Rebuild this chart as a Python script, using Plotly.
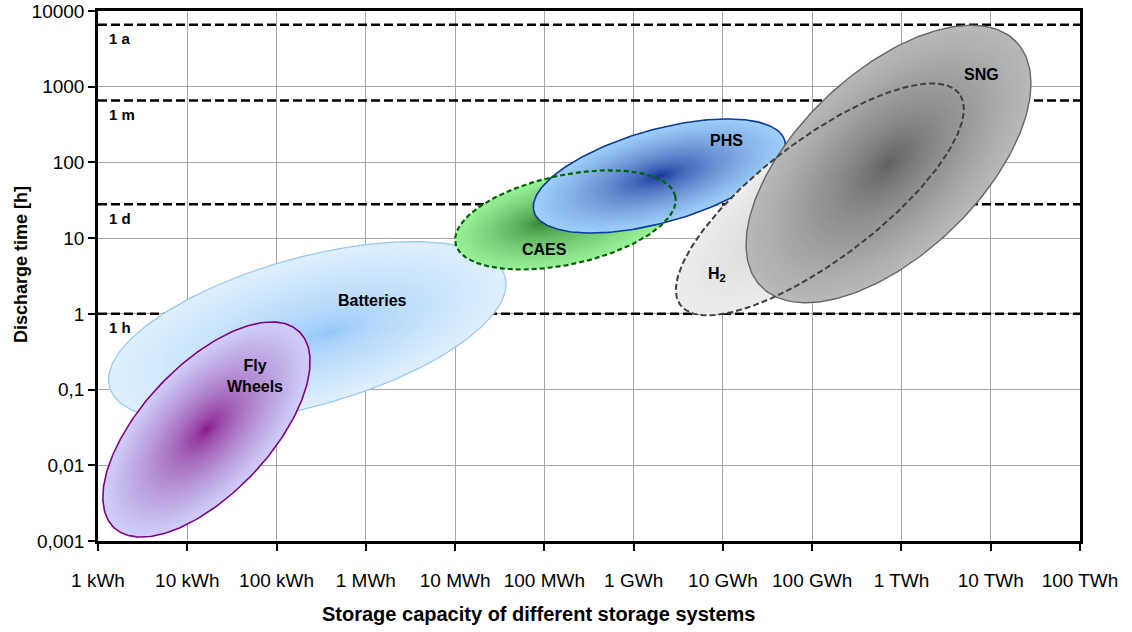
import numpy as np
import plotly.graph_objects as go

# ---------------- data ----------------
x_ticks_kwh = [1e0, 1e1, 1e2, 1e3, 1e4, 1e5, 1e6, 1e7, 1e8, 1e9, 1e10, 1e11]
x_tick_labels = ["1 kWh", "10 kWh", "100 kWh", "1 MWh", "10 MWh", "100 MWh",
                 "1 GWh", "10 GWh", "100 GWh", "1 TWh", "10 TWh", "100 TWh"]
y_ticks_h = [0.001, 0.01, 0.1, 1, 10, 100, 1000, 10000]
y_tick_labels = ["0,001", "0,01", "0,1", "1", "10", "100", "1000", "10000"]

ref_lines_h = [6600, 656, 28, 1]
ref_line_labels = ["1 a", "1 m", "1 d", "1 h"]

# storage technologies: ellipse centre, semi-axes (in decades of capacity) and tilt
tech_names = ["Batteries", "Fly Wheels", "CAES", "PHS", "H2", "SNG"]
center_kwh = [221, 16.4, 1.72e5, 1.94e6, 1.22e8, 7.16e8]
center_h = [0.579, 0.0297, 17.4, 66.2, 32.5, 95.3]
semi_major_dec = [2.30, 1.51, 1.26, 1.46, 1.96, 1.98]
semi_minor_dec = [0.83, 0.72, 0.50, 0.52, 0.67, 1.02]
tilt_deg = [15.6, 46.7, 12.1, 15.8, 37.2, 43.7]

# ---------------- layout / styles ----------------
W, H = 1132, 632
PL, PT, PW, PH = 98, 11, 982, 530   # plot area on screen
ML, MT = PL, PT
MR, MB = W - ML - PW, H - MT - PH
ASPECT = (PW / 11.0) / (PH / 7.0)   # px per x-decade / px per y-decade


def px_to_paper(sx, sy):
    return (sx - PL) / PW, (PT + PH - sy) / PH


styles = {
    "Batteries": dict(edge=(222, 239, 252), core=(140, 195, 250), line="#9cc8f2",
                      dash="solid", width=1.3, shift=(0.26, 0.0), gamma=0.6),
    "Fly Wheels": dict(edge=(206, 206, 250), core=(128, 8, 128), line="#800080",
                       dash="solid", width=1.6, shift=(0.0, 0.0), gamma=0.6),
    "CAES": dict(edge=(152, 240, 152), core=(40, 120, 40), line="#006400",
                 dash="5px,3px", width=2.2, shift=(-0.28, -0.04), gamma=0.6),
    "PHS": dict(edge=(160, 207, 250), core=(0, 30, 140), line="#0a3a9c",
                dash="solid", width=1.6, shift=(0.0, 0.0), gamma=0.55),
    "H2": dict(edge=(236, 236, 236), core=(200, 200, 200), line="#404040",
               dash="6px,3px", width=2.0, shift=(0.0, 0.0), gamma=0.7),
    "SNG": dict(edge=(184, 184, 184), core=(88, 88, 88), line="#666666",
                dash="solid", width=1.4, shift=(0.0, 0.0), gamma=0.65),
}

labels_pos = {  # (log10 x, log10 y) of the text labels
    "Batteries": ("Batteries", 3.08, 0.172),
    "Fly Wheels": ("Fly<br>Wheels", 1.76, -0.822),
    "CAES": ("CAES", 5.00, 0.851),
    "PHS": ("PHS", 7.04, 2.284),
    "H2": ("H<sub>2</sub>", 6.93, 0.525),
    "SNG": ("SNG", 9.90, 3.164),
}

t = np.linspace(0, 2 * np.pi, 241)


def ellipse(i, scale=1.0, shift=(0.0, 0.0)):
    cu, cv = np.log10(center_kwh[i]), np.log10(center_h[i])
    th = np.radians(tilt_deg[i])
    a, b = semi_major_dec[i] * scale, semi_minor_dec[i] * scale
    du = a * np.cos(t) * np.cos(th) - b * np.sin(t) * np.sin(th)
    dv = (a * np.cos(t) * np.sin(th) + b * np.sin(t) * np.cos(th)) * ASPECT
    # homothety around the glow centre keeps inner rings inside the outer one
    gu, gv = cu + shift[0], cv + shift[1]
    u = gu + scale * (cu - gu) + du
    v = gv + scale * (cv - gv) + dv
    return 10 ** u, 10 ** v


fig = go.Figure()

# reference lines (1 a, 1 m, 1 d, 1 h)
for val in ref_lines_h:
    fig.add_trace(go.Scatter(x=[x_ticks_kwh[0], x_ticks_kwh[-1]], y=[val, val], mode="lines",
                             line=dict(color="black", width=2.5, dash="9px,4px"),
                             hoverinfo="skip", showlegend=False))

N = 45


def add_fill(name):
    i = tech_names.index(name)
    st = styles[name]
    for s in np.linspace(1.0, 0.03, N):
        f = s ** st["gamma"]
        c = [int(round(st["core"][k] + (st["edge"][k] - st["core"][k]) * f)) for k in range(3)]
        x, y = ellipse(i, s, st["shift"])
        fig.add_trace(go.Scatter(x=x, y=y, mode="lines", fill="toself",
                                 fillcolor="rgb(%d,%d,%d)" % tuple(c),
                                 line=dict(width=0, color="rgba(0,0,0,0)"),
                                 hoverinfo="skip", showlegend=False))


def add_outline(name):
    i = tech_names.index(name)
    st = styles[name]
    x, y = ellipse(i)
    fig.add_trace(go.Scatter(x=x, y=y, mode="lines",
                             line=dict(color=st["line"], width=st["width"], dash=st["dash"]),
                             hoverinfo="skip", showlegend=False))


add_fill("Batteries"); add_outline("Batteries")
add_fill("Fly Wheels"); add_outline("Fly Wheels")
add_fill("CAES")
add_fill("PHS"); add_outline("PHS")
add_outline("CAES")
add_fill("H2")
add_fill("SNG"); add_outline("SNG")
add_outline("H2")

FONT = "Liberation Sans, Arial, sans-serif"

annotations = []
for name, (txt, lx, ly) in labels_pos.items():
    annotations.append(dict(x=lx, y=ly, xref="x", yref="y", text="<b>%s</b>" % txt,
                            showarrow=False, font=dict(family=FONT, size=16, color="black")))
for val, lab in zip(ref_lines_h, ref_line_labels):
    annotations.append(dict(x=px_to_paper(107, 0)[0], xref="paper", y=np.log10(val), yref="y",
                            yshift=-14, xanchor="left", yanchor="middle",
                            text="<b>%s</b>" % lab, showarrow=False,
                            font=dict(family=FONT, size=15, color="black")))
tx, ty = px_to_paper(538, 614)
annotations.append(dict(x=tx, y=ty, xref="paper", yref="paper",
                        text="<b>Storage capacity of different storage systems</b>",
                        showarrow=False, xanchor="center", yanchor="middle",
                        font=dict(family=FONT, size=20, color="black")))
tx, ty = px_to_paper(21, 265)
annotations.append(dict(x=tx, y=ty, xref="paper", yref="paper",
                        text="<b>Discharge time [h]</b>", textangle=-90,
                        showarrow=False, xanchor="center", yanchor="middle",
                        font=dict(family=FONT, size=18, color="black")))

fig.update_layout(
    width=W, height=H,
    margin=dict(l=ML, r=MR, t=MT, b=MB, autoexpand=False),
    plot_bgcolor="white", paper_bgcolor="white",
    showlegend=False,
    font=dict(family=FONT, color="black"),
    annotations=annotations,
)
fig.update_xaxes(type="log", range=[0, 11], tickvals=x_ticks_kwh, ticktext=x_tick_labels,
                 showgrid=True, gridcolor="#a6a6a6", gridwidth=1.2,
                 showline=True, linecolor="black", linewidth=2.5, mirror=True,
                 ticks="outside", ticklen=7, tickwidth=2, tickcolor="black",
                 tickfont=dict(family=FONT, size=19, color="black"),
                 ticklabelstandoff=13, ticklabeloverflow="allow",
                 zeroline=False, automargin=False)
fig.update_yaxes(type="log", range=[-3, 4], tickvals=y_ticks_h, ticktext=y_tick_labels,
                 showgrid=True, gridcolor="#a6a6a6", gridwidth=1.2,
                 showline=True, linecolor="black", linewidth=2.5, mirror=True,
                 ticks="outside", ticklen=7, tickwidth=2, tickcolor="black",
                 tickfont=dict(family=FONT, size=19, color="black"),
                 ticklabeloverflow="allow", zeroline=False, automargin=False)

fig.write_html("out.html", config={"displayModeBar": False},
               post_script="document.body.style.margin='0px';document.body.style.overflow='hidden';")
